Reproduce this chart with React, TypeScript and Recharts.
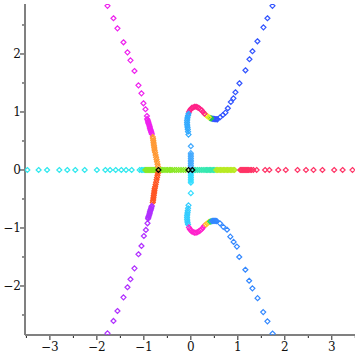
import { ScatterChart, Scatter, XAxis, YAxis } from 'recharts';

// points lying on the real axis (y = 0)
const axisCyanX = [-3.48, -3.24, -3.06, -2.8, -2.63, -2.46, -2.26, -2.0, -1.82, -1.72, -1.6, -1.48, -1.38, -1.26, -1.09, -1.05, -1.02, -0.99];
const axisGreenX = [-0.97, -0.95, -0.93, -0.91, -0.89, -0.87, -0.85, -0.83, -0.81, -0.79, -0.77, -0.75, -0.73, -0.71, -0.68, -0.66, -0.63, -0.6, -0.57, -0.53, -0.5, -0.46, -0.43, -0.4, -0.35, -0.31, -0.26, -0.21, -0.16, -0.11];
const axisTealX = [0.07, 0.1, 0.14, 0.18, 0.22, 0.26, 0.3, 0.33, 0.36, 0.39, 0.42, 0.45, 0.48, 0.51];
const axisLimeX = [0.54, 0.57, 0.6, 0.63, 0.66, 0.69, 0.72, 0.75, 0.78, 0.81, 0.84, 0.87, 0.9, 0.93];
const axisRedX = [1.05, 1.07, 1.09, 1.11, 1.13, 1.15, 1.17, 1.19, 1.21, 1.23, 1.26, 1.29, 1.33, 1.4, 1.58, 1.67, 1.86, 2.02, 2.27, 2.45, 2.61, 2.8, 3.05, 3.23, 3.44];
const blackX = [-0.69, -0.05, 0.03];

// points lying on the imaginary axis (x = 0)
const stemUpY = [0.41, 0.29, 0.26, 0.23, 0.2, 0.17, 0.14, 0.11, 0.08, 0.05];
const stemDownY = [-0.04, -0.07, -0.1, -0.13, -0.16, -0.19, -0.22, -0.4];

// left branch
const leftMagenta = [
  { x: -1.774, y: 2.83 }, { x: -1.647, y: 2.616 }, { x: -1.562, y: 2.443 }, { x: -1.434, y: 2.202 },
  { x: -1.349, y: 2.029 }, { x: -1.285, y: 1.891 }, { x: -1.2, y: 1.707 }, { x: -1.115, y: 1.46 },
  { x: -1.051, y: 1.322 }, { x: -1.009, y: 1.15 }, { x: -0.966, y: 1.047 }, { x: -0.935, y: 0.931 },
  { x: -0.93, y: 0.88 }, { x: -0.92, y: 0.86 }, { x: -0.91, y: 0.84 }, { x: -0.905, y: 0.82 },
  { x: -0.9, y: 0.8 }, { x: -0.89, y: 0.78 }, { x: -0.88, y: 0.76 }, { x: -0.875, y: 0.74 },
  { x: -0.87, y: 0.72 }, { x: -0.86, y: 0.7 }, { x: -0.855, y: 0.68 }, { x: -0.845, y: 0.66 },
  { x: -0.84, y: 0.64 }, { x: -0.83, y: 0.62 },
];
const leftOrange = [
  { x: -0.81, y: 0.57 }, { x: -0.805, y: 0.54 }, { x: -0.8, y: 0.51 }, { x: -0.795, y: 0.48 },
  { x: -0.79, y: 0.45 }, { x: -0.785, y: 0.42 }, { x: -0.78, y: 0.39 }, { x: -0.775, y: 0.36 },
  { x: -0.77, y: 0.33 }, { x: -0.76, y: 0.3 }, { x: -0.75, y: 0.26 }, { x: -0.74, y: 0.22 },
  { x: -0.73, y: 0.18 }, { x: -0.72, y: 0.14 }, { x: -0.71, y: 0.1 }, { x: -0.7, y: 0.06 },
];
const leftRed = [
  { x: -0.7, y: -0.05 }, { x: -0.71, y: -0.09 }, { x: -0.72, y: -0.13 }, { x: -0.73, y: -0.17 },
  { x: -0.74, y: -0.21 }, { x: -0.75, y: -0.25 }, { x: -0.76, y: -0.29 }, { x: -0.77, y: -0.32 },
  { x: -0.775, y: -0.35 }, { x: -0.78, y: -0.38 }, { x: -0.785, y: -0.41 }, { x: -0.79, y: -0.44 },
  { x: -0.795, y: -0.47 }, { x: -0.8, y: -0.5 }, { x: -0.805, y: -0.53 }, { x: -0.81, y: -0.56 },
];
const leftPurple = [
  { x: -0.83, y: -0.62 }, { x: -0.84, y: -0.64 }, { x: -0.845, y: -0.66 }, { x: -0.855, y: -0.68 },
  { x: -0.86, y: -0.7 }, { x: -0.87, y: -0.72 }, { x: -0.875, y: -0.74 }, { x: -0.88, y: -0.76 },
  { x: -0.89, y: -0.78 }, { x: -0.9, y: -0.8 }, { x: -0.905, y: -0.82 }, { x: -0.91, y: -0.84 },
  { x: -0.923, y: -0.919 }, { x: -0.957, y: -1.034 }, { x: -1.0, y: -1.138 }, { x: -1.051, y: -1.31 },
  { x: -1.115, y: -1.453 }, { x: -1.2, y: -1.695 }, { x: -1.285, y: -1.884 }, { x: -1.349, y: -2.022 },
  { x: -1.434, y: -2.195 }, { x: -1.562, y: -2.431 }, { x: -1.647, y: -2.603 }, { x: -1.774, y: -2.816 },
];

// right branch, upper half
const upperBlue = [
  { x: 1.737, y: 2.83 }, { x: 1.63, y: 2.616 }, { x: 1.545, y: 2.46 }, { x: 1.417, y: 2.219 },
  { x: 1.311, y: 2.047 }, { x: 1.247, y: 1.909 }, { x: 1.162, y: 1.719 }, { x: 1.034, y: 1.495 },
  { x: 0.949, y: 1.34 }, { x: 0.906, y: 1.236 }, { x: 0.851, y: 1.172 }, { x: 0.787, y: 1.064 },
  { x: 0.736, y: 0.988 }, { x: 0.681, y: 0.948 }, { x: 0.623, y: 0.909 }, { x: 0.566, y: 0.874 },
  { x: 0.55, y: 0.875 }, { x: 0.53, y: 0.875 }, { x: 0.51, y: 0.878 }, { x: 0.49, y: 0.88 },
  { x: 0.47, y: 0.882 }, { x: 0.45, y: 0.885 },
];
const upperGreen = [{ x: 0.43, y: 0.89 }, { x: 0.41, y: 0.895 }];
const upperYellow = [{ x: 0.38, y: 0.91 }, { x: 0.35, y: 0.93 }, { x: 0.32, y: 0.95 }];
const upperPink = [
  { x: 0.29, y: 0.97 }, { x: 0.26, y: 1.0 }, { x: 0.23, y: 1.03 }, { x: 0.2, y: 1.05 },
  { x: 0.17, y: 1.07 }, { x: 0.14, y: 1.08 }, { x: 0.11, y: 1.09 }, { x: 0.08, y: 1.09 },
  { x: 0.05, y: 1.08 }, { x: 0.02, y: 1.07 }, { x: 0.0, y: 1.05 }, { x: -0.02, y: 1.03 }, { x: -0.04, y: 1.0 },
];
const upperSky = [
  { x: -0.05, y: 0.97 }, { x: -0.06, y: 0.94 }, { x: -0.07, y: 0.91 }, { x: -0.075, y: 0.88 },
  { x: -0.08, y: 0.85 }, { x: -0.08, y: 0.82 }, { x: -0.08, y: 0.79 }, { x: -0.075, y: 0.76 },
  { x: -0.07, y: 0.73 }, { x: -0.065, y: 0.7 }, { x: -0.06, y: 0.66 }, { x: -0.05, y: 0.61 },
];

// right branch, lower half
const lowerSky = [
  { x: -0.05, y: -0.61 }, { x: -0.06, y: -0.66 }, { x: -0.065, y: -0.7 }, { x: -0.07, y: -0.73 },
  { x: -0.075, y: -0.76 }, { x: -0.08, y: -0.79 }, { x: -0.08, y: -0.82 }, { x: -0.08, y: -0.85 },
  { x: -0.075, y: -0.88 }, { x: -0.07, y: -0.91 }, { x: -0.06, y: -0.94 },
];
const lowerPink = [
  { x: -0.04, y: -0.99 }, { x: -0.02, y: -1.02 }, { x: 0.0, y: -1.04 }, { x: 0.02, y: -1.06 },
  { x: 0.05, y: -1.07 }, { x: 0.08, y: -1.08 }, { x: 0.11, y: -1.08 }, { x: 0.14, y: -1.07 },
  { x: 0.17, y: -1.06 }, { x: 0.2, y: -1.04 }, { x: 0.23, y: -1.02 }, { x: 0.26, y: -0.99 }, { x: 0.29, y: -0.96 },
];
const lowerYellow = [{ x: 0.32, y: -0.94 }, { x: 0.35, y: -0.92 }, { x: 0.38, y: -0.9 }];
const lowerGreen = [{ x: 0.41, y: -0.89 }, { x: 0.43, y: -0.885 }];
const lowerBlue = [
  { x: 0.45, y: -0.88 }, { x: 0.47, y: -0.878 }, { x: 0.49, y: -0.876 }, { x: 0.51, y: -0.876 },
  { x: 0.53, y: -0.878 }, { x: 0.55, y: -0.88 }, { x: 0.62, y: -0.92 }, { x: 0.69, y: -0.98 },
  { x: 0.77, y: -1.03 }, { x: 0.84, y: -1.15 }, { x: 0.91, y: -1.24 }, { x: 0.98, y: -1.32 },
  { x: 1.03, y: -1.5 }, { x: 1.16, y: -1.72 }, { x: 1.24, y: -1.91 }, { x: 1.31, y: -2.04 },
  { x: 1.42, y: -2.21 }, { x: 1.54, y: -2.45 }, { x: 1.63, y: -2.61 }, { x: 1.74, y: -2.82 },
];

const xTicks = [-3.5, -3, -2.5, -2, -1.5, -1, -0.5, 0, 0.5, 1, 1.5, 2, 2.5, 3, 3.5];
const yTicks = [-2.5, -2, -1.5, -1, -0.5, 0, 0.5, 1, 1.5, 2, 2.5];

const onAxis = (xs: number[]) => xs.map((x) => ({ x, y: 0 }));
const onStem = (ys: number[]) => ys.map((y) => ({ x: 0, y }));

const series = [
  { data: onAxis(axisCyanX), color: '#2ee8ee' },
  { data: onAxis(axisGreenX), color: '#8ae825' },
  { data: onAxis(axisTealX), color: '#35e8b0' },
  { data: onAxis(axisLimeX), color: '#b8ea22' },
  { data: onAxis(axisRedX), color: '#ff3366' },
  { data: onStem(stemUpY), color: '#44aaff' },
  { data: onStem(stemDownY), color: '#33ddff' },
  { data: leftMagenta, color: '#ee22ee' },
  { data: leftOrange, color: '#ff9933' },
  { data: leftRed, color: '#ff5522' },
  { data: leftPurple, color: '#b030ff' },
  { data: upperBlue, color: '#3355ff' },
  { data: upperGreen, color: '#22cc44' },
  { data: upperYellow, color: '#eeee22' },
  { data: upperPink, color: '#ff2288' },
  { data: upperSky, color: '#33aaff' },
  { data: lowerSky, color: '#33ccff' },
  { data: lowerPink, color: '#ff22cc' },
  { data: lowerYellow, color: '#ffcc22' },
  { data: lowerGreen, color: '#22dd66' },
  { data: lowerBlue, color: '#3388ff' },
  { data: onAxis(blackX), color: '#000000' },
];

const FONT = 'DejaVu Serif';
const fmt = (v: number) => (v < 0 ? `\u2212${-v}` : `${v}`);

const diamond = (color: string) => (props: any) => {
  const { cx, cy } = props;
  const r = 2.5;
  return (
    <path
      d={`M${cx},${cy - r}L${cx + r},${cy}L${cx},${cy + r}L${cx - r},${cy}Z`}
      fill="none"
      stroke={color}
      strokeWidth={1.2}
    />
  );
};

const XTick = (props: any) => {
  const { x, y, payload } = props;
  const v = payload.value;
  const major = Number.isInteger(v);
  return (
    <g>
      <line x1={x} y1={y + 1} x2={x} y2={y + (major ? 5 : 3)} stroke="#222" />
      {major && (
        <text x={x} y={y + 16} textAnchor="middle" fontFamily={FONT} fontSize={12} fill="#111">
          {fmt(v)}
        </text>
      )}
    </g>
  );
};

const YTick = (props: any) => {
  const { x, y, payload } = props;
  const v = payload.value;
  const major = Number.isInteger(v);
  return (
    <g>
      <line x1={x - 1} y1={y} x2={x - (major ? 5 : 3)} y2={y} stroke="#222" />
      {major && (
        <text x={x - 4} y={y + 4} textAnchor="end" fontFamily={FONT} fontSize={12} fill="#111">
          {fmt(v)}
        </text>
      )}
    </g>
  );
};

export default function App() {
  return (
    <div style={{ position: 'absolute', left: 0, top: 0, width: 355, height: 355, overflow: 'hidden', background: '#fff' }}>
      <ScatterChart width={360} height={355} margin={{ top: 4, right: 0, bottom: 0, left: 0 }}>
        <XAxis
          xAxisId="top"
          orientation="top"
          type="number"
          dataKey="x"
          domain={[-3.53, 3.6]}
          height={0}
          tick={false}
          tickLine={false}
          axisLine={{ stroke: '#808080', strokeWidth: 2 }}
        />
        <XAxis
          type="number"
          dataKey="x"
          domain={[-3.53, 3.6]}
          ticks={xTicks}
          interval={0}
          height={20}
          tickSize={0}
          tickMargin={0}
          tickLine={false}
          tick={<XTick />}
          axisLine={{ stroke: '#808080', strokeWidth: 2 }}
          allowDataOverflow
        />
        <YAxis
          type="number"
          dataKey="y"
          domain={[-2.845, 2.862]}
          ticks={yTicks}
          interval={0}
          width={25}
          tickSize={0}
          tickMargin={0}
          tickLine={false}
          tick={<YTick />}
          axisLine={{ stroke: '#808080', strokeWidth: 2 }}
          allowDataOverflow
        />
        {series.map((s, i) => (
          <Scatter key={i} data={s.data} fill={s.color} shape={diamond(s.color)} isAnimationActive={false} />
        ))}
      </ScatterChart>
    </div>
  );
}
